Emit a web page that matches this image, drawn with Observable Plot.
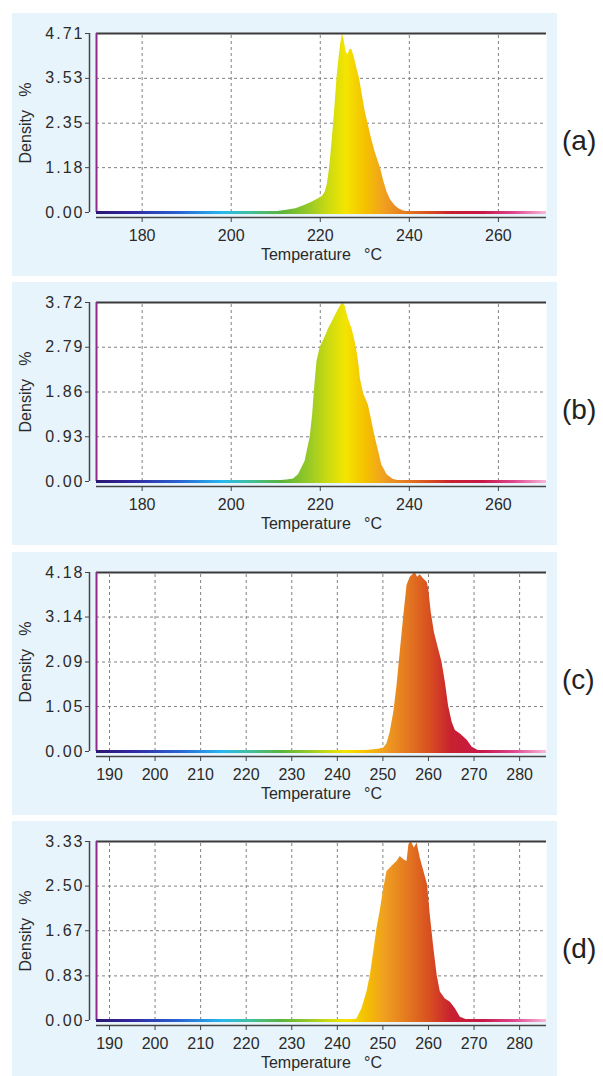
<!DOCTYPE html>
<html><head><meta charset="utf-8">
<script src="https://cdn.jsdelivr.net/npm/d3@7"></script>
<script src="https://cdn.jsdelivr.net/npm/@observablehq/plot@0.6"></script>
<style>
body{margin:0;background:#fff;font-family:"Liberation Sans",Arial,sans-serif;}
#wrap{position:relative;width:603px;height:1076px;overflow:hidden;background:#fff;}
.box{position:absolute;left:12px;width:545px;height:263px;background:#e8f4fb;}
.tag{position:absolute;left:562px;font-size:28px;color:#222;line-height:32px;font-family:"Liberation Sans",Arial,sans-serif;}
g[aria-label="y-axis tick label"] text{letter-spacing:2px;}
</style></head><body><div id="wrap"></div>
<script>
// ---- data ----
const panelTags = ["(a)", "(b)", "(c)", "(d)"];

const tempA = [205,208,210,212.5,214.5,216.3,218,219.6,220.5,221.1,221.6,222.1,222.6,223.0,223.4,223.75,224.2,224.6,225.0,225.4,225.8,226.2,226.7,227.1,227.6,228.2,228.8,229.5,230.1,230.7,231.5,232.3,233.0,233.5,234.2,235.0,235.8,236.8,237.7,238.7,240,242];
const densA = [0,0.01,0.02,0.06,0.1,0.18,0.26,0.36,0.43,0.53,0.75,1.18,1.8,2.35,2.95,3.53,4.05,4.45,4.71,4.5,4.22,4.15,4.3,4.28,4.1,3.8,3.53,3.05,2.65,2.35,1.95,1.6,1.35,1.18,0.85,0.53,0.33,0.18,0.09,0.04,0.015,0];

const tempB = [205,210,212.5,214.0,215.1,216.6,217.75,218.3,218.65,219.25,220.0,221.0,221.9,222.7,223.4,224.0,224.6,225.1,225.6,226.1,226.6,227.1,227.6,228.1,228.6,229.0,229.7,230.3,230.8,231.6,232.3,233.1,233.8,235.0,236.4,238,240];
const densB = [0,0.01,0.03,0.05,0.14,0.42,0.93,1.4,1.86,2.49,2.79,2.98,3.18,3.32,3.45,3.56,3.66,3.72,3.64,3.45,3.3,3.18,3.0,2.78,2.49,2.14,1.83,1.7,1.59,1.24,0.93,0.63,0.35,0.14,0.04,0.01,0];

const tempC = [240,244,247,249,250.2,250.9,251.6,252.4,253.1,253.8,254.6,255.3,256.0,256.8,257.1,257.6,258.2,258.95,259.7,260.05,260.6,261.3,262.2,262.98,263.7,264.4,265.2,265.9,267.0,268.5,269.6,271,273];
const densC = [0,0.01,0.03,0.05,0.08,0.18,0.45,0.92,1.54,2.32,3.18,3.88,4.07,4.15,4.18,4.07,4.13,4.03,3.95,3.8,3.25,2.78,2.40,2.08,1.62,1.07,0.68,0.49,0.41,0.26,0.10,0.02,0];

const tempD = [240,243,244.3,245.4,246.5,247.25,248.0,248.7,249.4,250.2,250.9,252.0,253.1,253.8,254.6,255.3,255.7,256.2,256.9,257.5,258.2,259.0,259.8,260.4,261.1,261.9,262.6,263.7,264.8,265.9,267.0,268.5,270];
const densD = [0,0.01,0.03,0.22,0.53,0.84,1.28,1.71,2.03,2.46,2.77,2.87,2.96,3.05,2.99,2.96,3.27,3.33,3.21,3.30,3.02,2.77,2.52,1.96,1.40,0.84,0.53,0.40,0.34,0.22,0.06,0.01,0];

const yTicksA = [0, 1.18, 2.35, 3.53, 4.71];
const yTicksB = [0, 0.93, 1.86, 2.79, 3.72];
const yTicksC = [0, 1.05, 2.09, 3.14, 4.18];
const yTicksD = [0, 0.83, 1.67, 2.50, 3.33];

const xTicksAB = [180, 200, 220, 240, 260];
const xTicksCD = [190, 200, 210, 220, 230, 240, 250, 260, 270, 280];
const xDomainAB = [169.75, 270.8];
const xDomainCD = [187.15, 285.9];

const xLabel = "Temperature\u00a0\u00a0\u00a0°C";
const yLabel = "Density\u00a0\u00a0\u00a0%";

// colour map (fraction of temperature domain -> colour)
const spectrumStops = [0, 0.08, 0.18, 0.28, 0.34, 0.41, 0.47, 0.52, 0.555, 0.60, 0.64, 0.69, 0.74, 0.79, 0.86, 0.93, 1];
const spectrumColors = ["#2b1670","#3228a0","#2a60d0","#28b8f0","#40c0a0","#58b43c","#94c828","#d0dc10","#f4e400","#f4c000","#f0a020","#e47a20","#d85020","#c82030","#c81848","#e04890","#f8b8d8"];

// ---- build panels ----
const panels = [
  {tag: panelTags[0], t: tempA, d: densA, yTicks: yTicksA, xTicks: xTicksAB, xDomain: xDomainAB, top: 33},
  {tag: panelTags[1], t: tempB, d: densB, yTicks: yTicksB, xTicks: xTicksAB, xDomain: xDomainAB, top: 302},
  {tag: panelTags[2], t: tempC, d: densC, yTicks: yTicksC, xTicks: xTicksCD, xDomain: xDomainCD, top: 572},
  {tag: panelTags[3], t: tempD, d: densD, yTicks: yTicksD, xTicks: xTicksCD, xDomain: xDomainCD, top: 841}
];

const wrap = document.getElementById("wrap");
const ns = "http://www.w3.org/2000/svg";

panels.forEach((p, k) => {
  const data = p.t.map((t, i) => ({t, d: p.d[i]}));
  const yMax = p.yTicks[p.yTicks.length - 1];
  const [x0, x1] = p.xDomain;
  const gid = "spec" + k;
  const grad = `url(#${gid})`;

  const box = document.createElement("div");
  box.className = "box";
  box.style.top = (p.top - 20) + "px";
  wrap.appendChild(box);

  const plot = Plot.plot({
    width: 545,
    height: 263,
    marginLeft: 84,
    marginRight: 11,
    marginTop: 20,
    marginBottom: 64,
    style: {background: "transparent", fontSize: "16px", fontFamily: "'Liberation Sans', Arial, sans-serif", color: "#2a2a2a", overflow: "visible"},
    x: {domain: p.xDomain, label: null},
    y: {domain: [0, yMax], label: null},
    marks: [
      Plot.frame({fill: "white", stroke: null}),
      Plot.gridX(p.xTicks, {stroke: "#808080", strokeOpacity: 1, strokeDasharray: "3,3", y1: 0, y2: yMax}),
      Plot.gridY(p.yTicks.slice(1, -1), {stroke: "#808080", strokeOpacity: 1, strokeDasharray: "3,3"}),
      Plot.areaY(data, {x: "t", y: "d", fill: grad, curve: "linear"}),
      Plot.ruleY([yMax], {stroke: "#3a3a3a", strokeWidth: 2}),
      Plot.ruleX([x0], {y1: 0, y2: yMax, stroke: "#8e2a8e", strokeWidth: 2}),
      Plot.ruleY([0], {stroke: grad, strokeWidth: 3}),
      Plot.ruleX([x0], {y1: 0, y2: yMax, dx: -7, stroke: "#444", strokeWidth: 1.5}),
      Plot.axisY(p.yTicks, {anchor: "left", tickSize: 4, dx: -7, tickPadding: 1, tickFormat: v => v.toFixed(2), stroke: "#444", fill: "#2a2a2a"}),
      Plot.ruleY([0], {dy: 5, stroke: "#444", strokeWidth: 1.5}),
      Plot.axisX(p.xTicks, {anchor: "bottom", tickSize: 5, dy: 5, tickPadding: 7, tickFormat: v => String(v), stroke: "#444", fill: "#2a2a2a"}),
      Plot.text([xLabel], {frameAnchor: "bottom", dy: 47, fill: "#2a2a2a", fontSize: 16, textAnchor: "middle"}),
      Plot.text([yLabel], {frameAnchor: "left", dx: -71, rotate: -90, fill: "#2a2a2a", fontSize: 16, textAnchor: "middle"})
    ]
  });

  // gradient defined along the x scale (userSpaceOnUse)
  const xs = plot.scale("x");
  const px0 = xs.apply(x0), px1 = xs.apply(x1);
  const defs = document.createElementNS(ns, "defs");
  const lg = document.createElementNS(ns, "linearGradient");
  lg.setAttribute("id", gid);
  lg.setAttribute("gradientUnits", "userSpaceOnUse");
  lg.setAttribute("x1", px0); lg.setAttribute("x2", px1);
  lg.setAttribute("y1", 0); lg.setAttribute("y2", 0);
  spectrumStops.forEach((s, i) => {
    const st = document.createElementNS(ns, "stop");
    st.setAttribute("offset", s);
    st.setAttribute("stop-color", spectrumColors[i]);
    lg.appendChild(st);
  });
  defs.appendChild(lg);
  plot.insertBefore(defs, plot.firstChild);

  box.appendChild(plot);

  const tag = document.createElement("div");
  tag.className = "tag";
  tag.textContent = p.tag;
  tag.style.top = (p.top + 108 - 16) + "px";
  wrap.appendChild(tag);
});
</script>
</body></html>
